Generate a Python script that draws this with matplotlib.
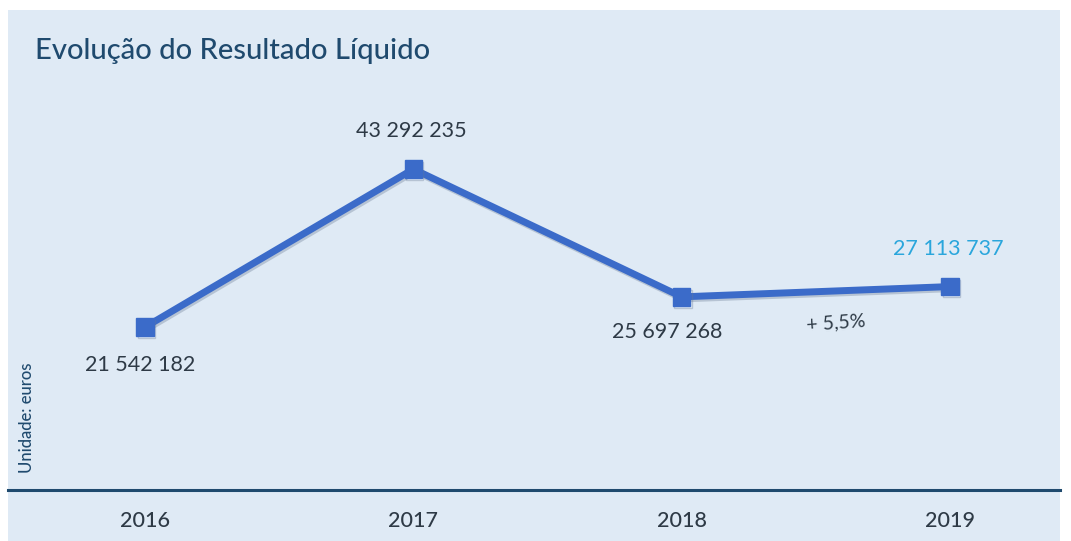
import matplotlib
matplotlib.use("Agg")
import matplotlib.pyplot as plt
from matplotlib.patches import Rectangle
import matplotlib.patheffects as pe

years = ["2016", "2017", "2018", "2019"]
values = [21542182, 43292235, 25697268, 27113737]
growth_label = "+ 5,5%"
title = "Evolução do Resultado Líquido"
unit_label = "Unidade: euros"

BG = "#dfeaf5"
NAVY = "#1f4a6e"
LINE = "#3b6bc9"
TXT = "#2e3a46"
CYAN = "#2aa6dc"

plt.rcParams["font.family"] = ["Lato", "DejaVu Sans"]

fig = plt.figure(figsize=(10.71, 5.41), dpi=100)
fig.patch.set_facecolor("white")
fig.patches.append(Rectangle((8 / 1071, 0), (1060 - 8) / 1071, 531 / 541,
                             transform=fig.transFigure, facecolor=BG,
                             edgecolor="none", zorder=-10))

ax = fig.add_axes([8 / 1071, 51 / 541, 1052 / 1071, 480 / 541])
ax.set_facecolor("none")
x = list(range(len(years)))
vals_m = [v / 1e6 for v in values]
ax.plot(x, vals_m, color=LINE, lw=5, marker="s", ms=12.5, mfc=LINE, mec=LINE,
        solid_joinstyle="round",
        path_effects=[pe.SimpleLineShadow(offset=(1, -1.5), shadow_color="#6a7c95", alpha=0.35),
                      pe.Normal()])
ax.set_xlim(-0.511, 3.41)
ax.set_ylim(-0.9, 65.2)
for s in ["top", "right", "left"]:
    ax.spines[s].set_visible(False)
ax.spines["bottom"].set_color(NAVY)
ax.spines["bottom"].set_linewidth(2.2)
ax.set_yticks([])
ax.set_xticks(x)
ax.set_xticklabels(years, fontsize=15.5, color=TXT, fontweight="medium")
ax.tick_params(axis="x", length=0, pad=15)


def fmt(v):
    return f"{v:,}".replace(",", " ")


offsets = [(-5, -38), (-2, 38), (-15, -35), (-2, 38)]
colors = [TXT, TXT, TXT, CYAN]
for i, v in enumerate(values):
    ax.annotate(fmt(v), (x[i], vals_m[i]), xytext=offsets[i], textcoords="offset pixels",
                ha="center", va="center", fontsize=15.5, color=colors[i])

mid = (vals_m[2] + vals_m[3]) / 2
ax.annotate(growth_label, (2.5, mid), xytext=(20, -31), textcoords="offset pixels",
            ha="center", va="center", fontsize=14, color=TXT, rotation=4)

fig.text(35 / 1071, 1 - 51 / 541, title, fontsize=21, color=NAVY, ha="left", va="center",
         fontweight="medium")
fig.text(27 / 1071, 1 - 418 / 541, unit_label, fontsize=12, color=NAVY, rotation=90,
         ha="center", va="center", fontweight="medium")

fig.savefig("out.png", dpi=100, facecolor=fig.get_facecolor())
